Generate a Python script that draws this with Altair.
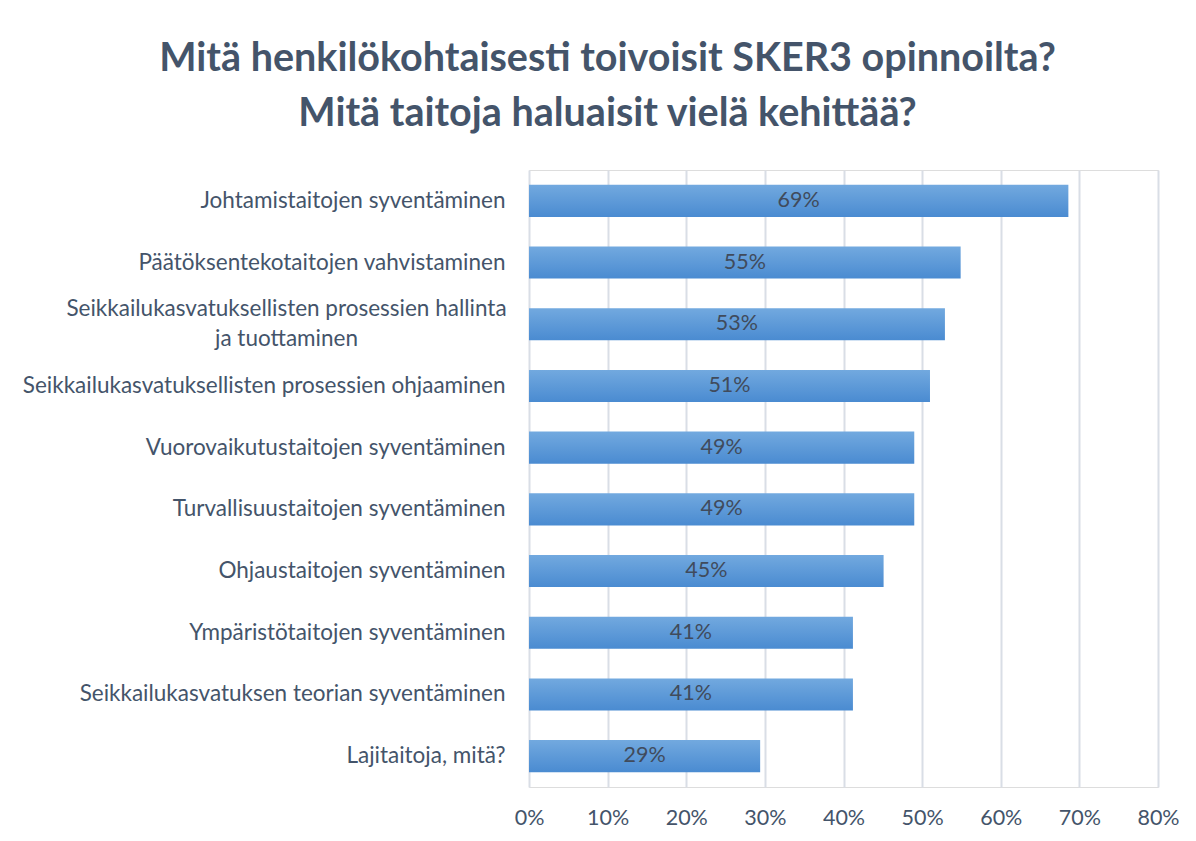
import altair as alt
import pandas as pd

categories = [
    "Johtamistaitojen syventäminen",
    "Päätöksentekotaitojen vahvistaminen",
    "Seikkailukasvatuksellisten prosessien hallinta|ja tuottaminen",
    "Seikkailukasvatuksellisten prosessien ohjaaminen",
    "Vuorovaikutustaitojen syventäminen",
    "Turvallisuustaitojen syventäminen",
    "Ohjaustaitojen syventäminen",
    "Ympäristötaitojen syventäminen",
    "Seikkailukasvatuksen teorian syventäminen",
    "Lajitaitoja, mitä?",
]
values = [0.686, 0.549, 0.529, 0.510, 0.490, 0.490, 0.451, 0.412, 0.412, 0.294]
x_ticks = [0, 0.1, 0.2, 0.3, 0.4, 0.5, 0.6, 0.7, 0.8]

df = pd.DataFrame({"cat": categories, "val": values})
df["half"] = df["val"] / 2

FONT = "Lato"
TXT = "#44546A"
MULTI = "indexof(datum.label, '|') >= 0"

y_enc = alt.Y(
    "cat:N",
    sort=categories,
    title=None,
    scale=alt.Scale(paddingInner=0.48, paddingOuter=0.24),
    axis=alt.Axis(
        domain=False,
        ticks=False,
        grid=False,
        labelPadding={"condition": {"test": MULTI, "value": 243}, "value": 24},
        labelAlign={"condition": {"test": MULTI, "value": "center"}, "value": "right"},
        labelOffset={"condition": {"test": MULTI, "value": -15}, "value": 0},
        labelFont=FONT,
        labelFontSize=22.5,
        labelColor=TXT,
        labelLimit=600,
        labelLineHeight=30,
        labelExpr="split(datum.label, '|')",
    ),
)

x_scale = alt.Scale(domain=[0, 0.8], nice=False)

bars = alt.Chart(df).mark_bar(
    color=alt.Gradient(
        gradient="linear",
        stops=[
            alt.GradientStop(color="#72a9df", offset=0),
            alt.GradientStop(color="#4a8bd1", offset=1),
        ],
        x1=0, x2=0, y1=0, y2=1,
    )
).encode(
    x=alt.X(
        "val:Q",
        scale=x_scale,
        title=None,
        axis=alt.Axis(
            values=x_ticks,
            format=".0%",
            domain=False,
            ticks=False,
            grid=True,
            gridColor="#d9dee6",
            gridWidth=2,
            labelFlush=False,
            labelPadding=20,
            labelFont=FONT,
            labelFontSize=21.5,
            labelColor=TXT,
        ),
    ),
    y=y_enc,
)

text = alt.Chart(df).mark_text(
    font=FONT, fontSize=21.5, color="#404b5c"
).encode(
    x=alt.X("half:Q", scale=x_scale),
    y=alt.Y("cat:N", sort=categories),
    text=alt.Text("val:Q", format=".0%"),
)

chart = alt.layer(bars, text).properties(
    width=629,
    height=617,
    padding={"left": 14, "top": 30, "right": 0, "bottom": 0},
    title=alt.TitleParams(
        text=["Mitä henkilökohtaisesti toivoisit SKER3 opinnoilta?", "Mitä taitoja haluaisit vielä kehittää?"],
        font=FONT,
        fontSize=39.5,
        fontWeight="bold",
        color=TXT,
        lineHeight=55,
        anchor="middle",
        dx=-236,
        offset=36,
    ),
).configure_view(stroke=None).configure(background="white")

chart.save("out.html", embed_options={"renderer": "svg", "actions": False})
